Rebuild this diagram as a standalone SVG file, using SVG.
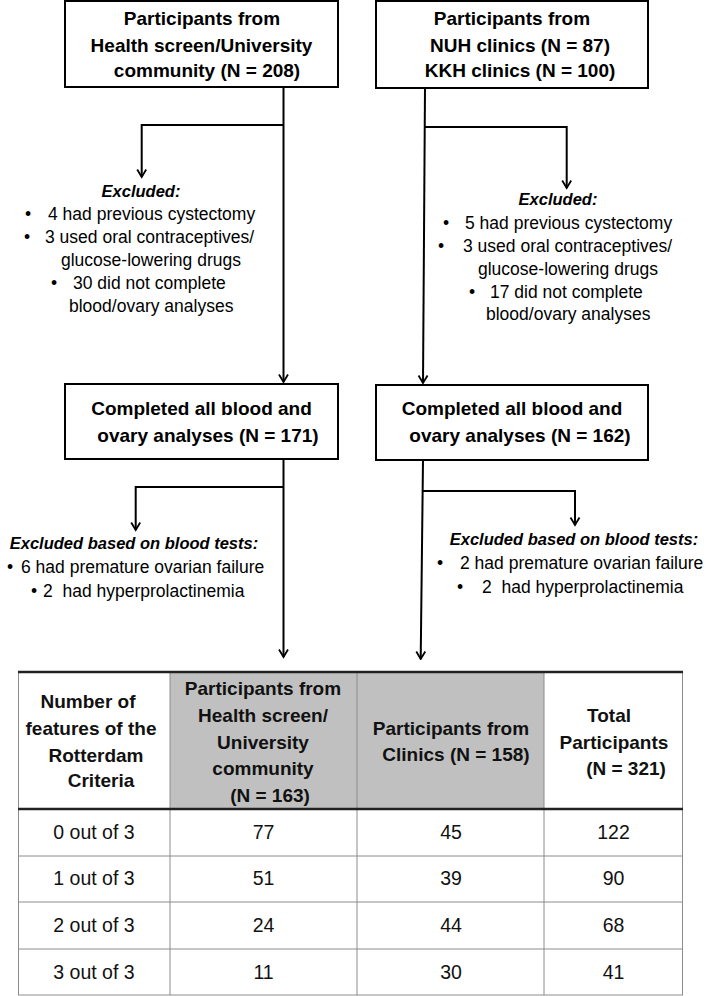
<svg xmlns="http://www.w3.org/2000/svg" width="709" height="996" viewBox="0 0 709 996">
<style>
.bx{fill:#fff;stroke:#000;stroke-width:2}
.bt{font-family:"Liberation Sans",Arial,sans-serif;font-weight:bold;font-size:19px;fill:#000;text-anchor:middle}
.rt{font-family:"Liberation Sans",Arial,sans-serif;font-size:17.5px;fill:#000}
.it{font-family:"Liberation Sans",Arial,sans-serif;font-size:16.5px;font-weight:bold;font-style:italic;fill:#000;text-anchor:middle}
.bu{text-anchor:middle}
.cn{fill:none;stroke:#000;stroke-width:2}
.tg{stroke:#8c8c8c;stroke-width:1}
.tk{stroke:#222;stroke-width:2.5}
.tc{font-family:"Liberation Sans",Arial,sans-serif;font-size:19.5px;fill:#111;text-anchor:middle}
.th{font-family:"Liberation Sans",Arial,sans-serif;font-size:19px;font-weight:bold;fill:#111;text-anchor:middle}
</style>
<defs>
<marker id="ah" viewBox="-1 -6 11 12" markerWidth="11" markerHeight="12" refX="8.5" refY="0" orient="auto" markerUnits="userSpaceOnUse">
<path d="M1,-4.5 L8.5,0 L1,4.5" fill="none" stroke="#000" stroke-width="1.8"/>
</marker>
</defs>

<g id="connectors">
<path class="cn" d="M283.5,87 L283.5,382" marker-end="url(#ah)"/>
<path class="cn" d="M283.5,125 L141.7,125 L141.7,177" marker-end="url(#ah)"/>
<path class="cn" d="M425,88 L423,383" marker-end="url(#ah)"/>
<path class="cn" d="M425,127 L566.7,127 L566.7,188" marker-end="url(#ah)"/>
<path class="cn" d="M283.5,459 L283.5,657" marker-end="url(#ah)"/>
<path class="cn" d="M283.5,487 L135.7,487 L135.7,530" marker-end="url(#ah)"/>
<path class="cn" d="M423,460 L420.7,659" marker-end="url(#ah)"/>
<path class="cn" d="M422.5,491 L575,491 L575,525" marker-end="url(#ah)"/>
</g>

<g id="box-health">
<rect class="bx" x="65" y="1" width="273" height="86"/>
<text class="bt" x="202" y="25">Participants from</text>
<text class="bt" x="201.5" y="52">Health screen/University</text>
<text class="bt" x="207" y="77">community (N = 208)</text>
</g>

<g id="box-clinics">
<rect class="bx" x="376" y="1" width="272" height="87"/>
<text class="bt" x="512" y="25">Participants from</text>
<text class="bt" x="520" y="52">NUH clinics (N = 87)</text>
<text class="bt" x="520" y="77">KKH clinics (N = 100)</text>
</g>

<g id="excl-left">
<text class="it" x="141" y="197">Excluded:</text>
<text class="rt bu" x="28" y="220">•</text><text class="rt" x="48" y="220">4 had previous cystectomy</text>
<text class="rt bu" x="27" y="243">•</text><text class="rt" x="45" y="243">3 used oral contraceptives/</text>
<text class="rt" x="61" y="266">glucose-lowering drugs</text>
<text class="rt bu" x="54" y="289">•</text><text class="rt" x="73" y="289">30 did not complete</text>
<text class="rt" x="69" y="312">blood/ovary analyses</text>
</g>

<g id="excl-right">
<text class="it" x="558" y="205">Excluded:</text>
<text class="rt bu" x="446" y="229">•</text><text class="rt" x="465" y="229">5 had previous cystectomy</text>
<text class="rt bu" x="441" y="252">•</text><text class="rt" x="463" y="252">3 used oral contraceptives/</text>
<text class="rt" x="478" y="275">glucose-lowering drugs</text>
<text class="rt bu" x="472" y="298">•</text><text class="rt" x="490" y="298">17 did not complete</text>
<text class="rt" x="486" y="320">blood/ovary analyses</text>
</g>

<g id="box-completed-left">
<rect class="bx" x="65" y="384" width="273" height="75"/>
<text class="bt" x="201.5" y="415">Completed all blood and</text>
<text class="bt" x="208" y="442">ovary analyses (N = 171)</text>
</g>

<g id="box-completed-right">
<rect class="bx" x="376" y="385" width="272" height="75"/>
<text class="bt" x="512" y="415">Completed all blood and</text>
<text class="bt" x="520" y="442">ovary analyses (N = 162)</text>
</g>

<g id="blood-left">
<text class="it" x="134" y="549">Excluded based on blood tests:</text>
<text class="rt bu" x="10" y="573">•</text><text class="rt" x="21" y="573">6 had premature ovarian failure</text>
<text class="rt bu" x="34" y="597">•</text><text class="rt" x="43" y="597">2&#160; had hyperprolactinemia</text>
</g>

<g id="blood-right">
<text class="it" x="574" y="545">Excluded based on blood tests:</text>
<text class="rt bu" x="440" y="569">•</text><text class="rt" x="460" y="569">2 had premature ovarian failure</text>
<text class="rt bu" x="460" y="593">•</text><text class="rt" x="482" y="593">2&#160; had hyperprolactinemia</text>
</g>

<g id="table">
<rect x="18" y="672" width="665" height="323" fill="#fff"/>
<rect x="170" y="672" width="374" height="137" fill="#c0c0c0"/>
<line class="tg" x1="18.5" y1="672" x2="18.5" y2="995"/>
<line class="tg" x1="170" y1="672" x2="170" y2="995"/>
<line class="tg" x1="357" y1="672" x2="357" y2="995"/>
<line class="tg" x1="544" y1="672" x2="544" y2="995"/>
<line class="tg" x1="682.5" y1="672" x2="682.5" y2="995"/>
<line class="tg" x1="18" y1="856" x2="683" y2="856"/>
<line class="tg" x1="18" y1="902" x2="683" y2="902"/>
<line class="tg" x1="18" y1="949" x2="683" y2="949"/>
<line class="tg" x1="18" y1="995" x2="683" y2="995"/>
<line class="tk" x1="18" y1="672" x2="683" y2="672"/>
<line class="tk" x1="18" y1="809" x2="683" y2="809"/>

<text class="th" x="88" y="708">Number of</text>
<text class="th" x="91" y="735">features of the</text>
<text class="th" x="96" y="762">Rotterdam</text>
<text class="th" x="101" y="787">Criteria</text>

<text class="th" x="263" y="695">Participants from</text>
<text class="th" x="263" y="722">Health screen/</text>
<text class="th" x="263" y="749">University</text>
<text class="th" x="263" y="775">community</text>
<text class="th" x="270" y="802">(N = 163)</text>

<text class="th" x="451" y="735">Participants from</text>
<text class="th" x="456" y="761">Clinics (N = 158)</text>

<text class="th" x="609" y="722">Total</text>
<text class="th" x="614" y="749">Participants</text>
<text class="th" x="626" y="775">(N = 321)</text>

<text class="tc" x="94" y="839">0 out of 3</text>
<text class="tc" x="263.5" y="839">77</text>
<text class="tc" x="451" y="839">45</text>
<text class="tc" x="613.5" y="839">122</text>

<text class="tc" x="94" y="885">1 out of 3</text>
<text class="tc" x="263.5" y="885">51</text>
<text class="tc" x="451" y="885">39</text>
<text class="tc" x="613.5" y="885">90</text>

<text class="tc" x="94" y="932">2 out of 3</text>
<text class="tc" x="263.5" y="932">24</text>
<text class="tc" x="451" y="932">44</text>
<text class="tc" x="613.5" y="932">68</text>

<text class="tc" x="94" y="979">3 out of 3</text>
<text class="tc" x="263.5" y="979">11</text>
<text class="tc" x="451" y="979">30</text>
<text class="tc" x="613.5" y="979">41</text>
</g>
</svg>
